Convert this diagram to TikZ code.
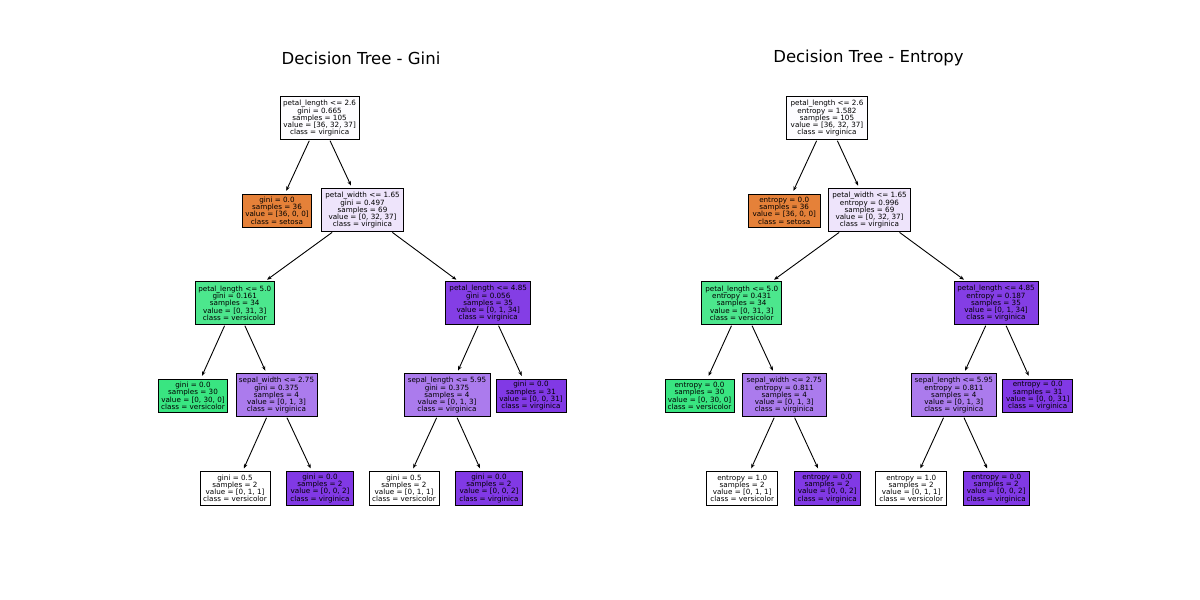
\documentclass[tikz,border=0pt]{standalone}
\usepackage{fontspec}
\setmainfont{DejaVu Sans}
\usetikzlibrary{arrows.meta}
\definecolor{cRoot}{RGB}{253,252,255}
\definecolor{cPW}{RGB}{238,228,251}
\definecolor{cOrange}{RGB}{229,129,57}
\definecolor{cGreenL}{RGB}{76,231,141}
\definecolor{cGreen}{RGB}{57,229,129}
\definecolor{cPurpleD}{RGB}{132,62,229}
\definecolor{cPurpleM}{RGB}{171,123,237}
\definecolor{cPurple}{RGB}{129,57,229}
\tikzset{
  tbox/.style={draw=black, line width=0.9pt, inner sep=0pt, outer sep=0pt, align=center,
    font=\fontsize{7.2}{7.2}\selectfont},
  five/.style={tbox, minimum height=43pt},
  four/.style={tbox, minimum height=33.5pt},
  edge/.style={line width=0.9pt, -{Stealth[length=4.5pt,width=3.6pt]}, shorten <=1pt, shorten >=3.5pt},
  ttl/.style={font=\fontsize{16.5}{19}\selectfont}
}
\begin{document}
\begin{tikzpicture}[x=1pt,y=-1pt]
\useasboundingbox (0,0) rectangle (1200,600);
% ---- Gini tree ----
\node[ttl] (tg) at (361,58) {Decision Tree - Gini};
\node[five, minimum width=79.3pt, fill=cRoot] (g0) at (319.6,118.3) {petal\_length <= 2.6\\gini = 0.665\\samples = 105\\value = [36, 32, 37]\\class = virginica};
\node[four, minimum width=69.4pt, fill=cOrange] (g1) at (277,210.7) {gini = 0.0\\samples = 36\\value = [36, 0, 0]\\class = setosa};
\node[five, minimum width=81.6pt, fill=cPW] (g2) at (362.5,210.3) {petal\_width <= 1.65\\gini = 0.497\\samples = 69\\value = [0, 32, 37]\\class = virginica};
\node[five, minimum width=79.3pt, fill=cGreenL] (g3) at (234.7,303.3) {petal\_length <= 5.0\\gini = 0.161\\samples = 34\\value = [0, 31, 3]\\class = versicolor};
\node[five, minimum width=85pt, fill=cPurpleD] (g4) at (488.2,303.3) {petal\_length <= 4.85\\gini = 0.056\\samples = 35\\value = [0, 1, 34]\\class = virginica};
\node[four, minimum width=69.4pt, fill=cGreen] (g5) at (193,395.8) {gini = 0.0\\samples = 30\\value = [0, 30, 0]\\class = versicolor};
\node[five, minimum width=81pt, fill=cPurpleM] (g6) at (276.5,395.3) {sepal\_width <= 2.75\\gini = 0.375\\samples = 4\\value = [0, 1, 3]\\class = virginica};
\node[five, minimum width=86pt, fill=cPurpleM] (g7) at (447,395.3) {sepal\_length <= 5.95\\gini = 0.375\\samples = 4\\value = [0, 1, 3]\\class = virginica};
\node[four, minimum width=70pt, fill=cPurple] (g8) at (531,395.8) {gini = 0.0\\samples = 31\\value = [0, 0, 31]\\class = virginica};
\node[four, minimum width=70pt, fill=white] (g9) at (235,488.3) {gini = 0.5\\samples = 2\\value = [0, 1, 1]\\class = versicolor};
\node[four, minimum width=66.6pt, fill=cPurple] (g10) at (320,488.3) {gini = 0.0\\samples = 2\\value = [0, 0, 2]\\class = virginica};
\node[four, minimum width=70pt, fill=white] (g11) at (404,488.3) {gini = 0.5\\samples = 2\\value = [0, 1, 1]\\class = versicolor};
\node[four, minimum width=66.6pt, fill=cPurple] (g12) at (489,488.3) {gini = 0.0\\samples = 2\\value = [0, 0, 2]\\class = virginica};
\foreach \a/\b in {g0/g1,g0/g2,g2/g3,g2/g4,g3/g5,g3/g6,g4/g7,g4/g8,g6/g9,g6/g10,g7/g11,g7/g12}
  \draw[edge] (\a) -- (\b);
% ---- Entropy tree ----
\node[ttl] (te) at (868.5,58) {Decision Tree - Entropy};
\node[five, minimum width=80.6pt, fill=cRoot] (e0) at (827,118.3) {petal\_length <= 2.6\\entropy = 1.582\\samples = 105\\value = [36, 32, 37]\\class = virginica};
\node[four, minimum width=71.7pt, fill=cOrange] (e1) at (784.2,210.7) {entropy = 0.0\\samples = 36\\value = [36, 0, 0]\\class = setosa};
\node[five, minimum width=82.4pt, fill=cPW] (e2) at (869.5,210.3) {petal\_width <= 1.65\\entropy = 0.996\\samples = 69\\value = [0, 32, 37]\\class = virginica};
\node[five, minimum width=80pt, fill=cGreenL] (e3) at (741.7,303.3) {petal\_length <= 5.0\\entropy = 0.431\\samples = 34\\value = [0, 31, 3]\\class = versicolor};
\node[five, minimum width=84pt, fill=cPurpleD] (e4) at (996,303.3) {petal\_length <= 4.85\\entropy = 0.187\\samples = 35\\value = [0, 1, 34]\\class = virginica};
\node[four, minimum width=69pt, fill=cGreen] (e5) at (699.5,395.8) {entropy = 0.0\\samples = 30\\value = [0, 30, 0]\\class = versicolor};
\node[five, minimum width=83.3pt, fill=cPurpleM] (e6) at (784.3,395.3) {sepal\_width <= 2.75\\entropy = 0.811\\samples = 4\\value = [0, 1, 3]\\class = virginica};
\node[five, minimum width=84.3pt, fill=cPurpleM] (e7) at (953.8,395.3) {sepal\_length <= 5.95\\entropy = 0.811\\samples = 4\\value = [0, 1, 3]\\class = virginica};
\node[four, minimum width=70pt, fill=cPurple] (e8) at (1037.7,395.8) {entropy = 0.0\\samples = 31\\value = [0, 0, 31]\\class = virginica};
\node[four, minimum width=71pt, fill=white] (e9) at (742.2,488.3) {entropy = 1.0\\samples = 2\\value = [0, 1, 1]\\class = versicolor};
\node[four, minimum width=65.7pt, fill=cPurple] (e10) at (827.2,488.3) {entropy = 0.0\\samples = 2\\value = [0, 0, 2]\\class = virginica};
\node[four, minimum width=71pt, fill=white] (e11) at (911.2,488.3) {entropy = 1.0\\samples = 2\\value = [0, 1, 1]\\class = versicolor};
\node[four, minimum width=65.7pt, fill=cPurple] (e12) at (996.2,488.3) {entropy = 0.0\\samples = 2\\value = [0, 0, 2]\\class = virginica};
\foreach \a/\b in {e0/e1,e0/e2,e2/e3,e2/e4,e3/e5,e3/e6,e4/e7,e4/e8,e6/e9,e6/e10,e7/e11,e7/e12}
  \draw[edge] (\a) -- (\b);
\end{tikzpicture}
\end{document}
